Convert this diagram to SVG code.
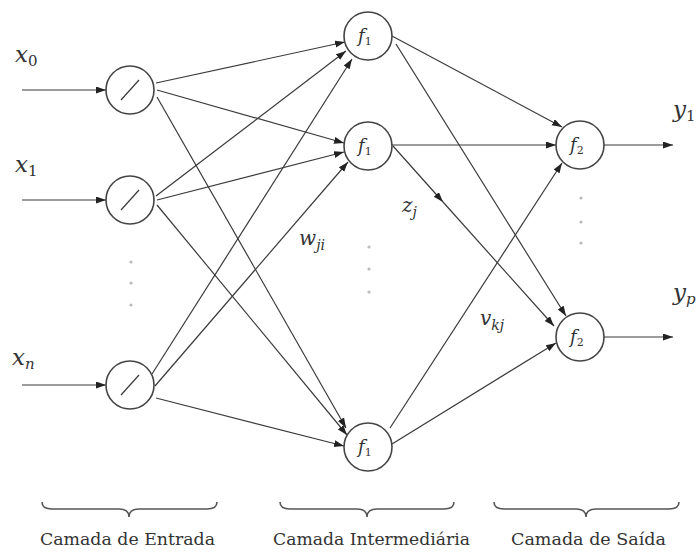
<svg xmlns="http://www.w3.org/2000/svg" width="698" height="553" viewBox="0 0 698 553">
<style>
.node{fill:#fff;stroke:#444;stroke-width:1.6}
.ln{fill:none;stroke:#3a3a3a;stroke-width:1.2}
.ar{marker-end:url(#ah)}
.m{font-family:"DejaVu Serif","Liberation Serif",serif;font-style:italic;fill:#333}
.r{font-style:normal}
.t{font-family:"DejaVu Serif","Liberation Serif",serif;font-size:17px;fill:#333}
.dot{fill:#bbb}
.br{fill:none;stroke:#555;stroke-width:1.6}
</style>
<defs>
<marker id="ah" markerUnits="userSpaceOnUse" markerWidth="11" markerHeight="8" refX="10" refY="3.5" orient="auto">
<path d="M0,0 L10,3.5 L0,7 z" fill="#222"/>
</marker>
</defs>
<g id="connectors">
<line class="ln ar" x1="22" y1="90" x2="106" y2="90"/>
<line class="ln ar" x1="22" y1="200" x2="106" y2="200"/>
<line class="ln ar" x1="22" y1="385" x2="106" y2="385"/>
<line class="ln ar" x1="156" y1="83" x2="345" y2="42"/>
<line class="ln ar" x1="157" y1="90" x2="344" y2="143"/>
<line class="ln ar" x1="157" y1="97" x2="346" y2="428"/>
<line class="ln ar" x1="156" y1="196" x2="346" y2="51"/>
<line class="ln ar" x1="157" y1="200" x2="344" y2="152"/>
<line class="ln ar" x1="157" y1="205" x2="347" y2="435"/>
<line class="ln ar" x1="152" y1="374" x2="352" y2="59"/>
<line class="ln ar" x1="155" y1="386" x2="348" y2="162"/>
<line class="ln ar" x1="156" y1="398" x2="344" y2="446"/>
<line class="ln ar" x1="392" y1="36" x2="562" y2="127"/>
<line class="ln ar" x1="396" y1="44" x2="566" y2="316"/>
<line class="ln ar" x1="392" y1="145" x2="556" y2="145"/>
<line class="ln ar" x1="393" y1="146" x2="443" y2="202"/>
<line class="ln ar" x1="443" y1="202" x2="554" y2="326"/>
<line class="ln ar" x1="390" y1="428" x2="562" y2="163"/>
<line class="ln ar" x1="392" y1="444" x2="556" y2="343"/>
<line class="ln ar" x1="604" y1="145" x2="673" y2="145"/>
<line class="ln ar" x1="604" y1="337" x2="673" y2="337"/>
</g>
<g id="in0"><circle class="node" cx="130" cy="90" r="24"/><line class="ln" x1="121" y1="100" x2="139" y2="80" stroke-width="1.6"/></g>
<g id="in1"><circle class="node" cx="130" cy="200" r="24"/><line class="ln" x1="121" y1="210" x2="139" y2="190" stroke-width="1.6"/></g>
<g id="inn"><circle class="node" cx="130" cy="385" r="24"/><line class="ln" x1="121" y1="395" x2="139" y2="375" stroke-width="1.6"/></g>
<g id="h1"><circle class="node" cx="368" cy="36" r="24"/><text class="m" x="358" y="42" font-size="18">f<tspan class="r" font-size="11" dy="3">1</tspan></text></g>
<g id="h2"><circle class="node" cx="368" cy="146" r="24"/><text class="m" x="358" y="152" font-size="18">f<tspan class="r" font-size="11" dy="3">1</tspan></text></g>
<g id="h3"><circle class="node" cx="368" cy="447" r="24"/><text class="m" x="358" y="453" font-size="18">f<tspan class="r" font-size="11" dy="3">1</tspan></text></g>
<g id="o1"><circle class="node" cx="580" cy="145" r="24"/><text class="m" x="570" y="151" font-size="18">f<tspan class="r" font-size="11" dy="3">2</tspan></text></g>
<g id="o2"><circle class="node" cx="580" cy="337" r="24"/><text class="m" x="570" y="343" font-size="18">f<tspan class="r" font-size="11" dy="3">2</tspan></text></g>
<g id="dots">
<circle class="dot" cx="131" cy="262" r="1.6"/><circle class="dot" cx="131" cy="283" r="1.6"/><circle class="dot" cx="131" cy="305" r="1.6"/>
<circle class="dot" cx="369" cy="247" r="1.6"/><circle class="dot" cx="369" cy="269" r="1.6"/><circle class="dot" cx="369" cy="292" r="1.6"/>
<circle class="dot" cx="581" cy="198" r="1.6"/><circle class="dot" cx="581" cy="222" r="1.6"/><circle class="dot" cx="581" cy="243" r="1.6"/>
</g>
<g id="labels">
<text class="m" x="15" y="62" font-size="23">x<tspan class="r" font-size="15" dy="4">0</tspan></text>
<text class="m" x="15" y="172" font-size="23">x<tspan class="r" font-size="15" dy="4">1</tspan></text>
<text class="m" x="12" y="365" font-size="23">x<tspan font-size="15" dy="4">n</tspan></text>
<text class="m" x="673" y="117" font-size="23">y<tspan class="r" font-size="15" dy="4">1</tspan></text>
<text class="m" x="673" y="300" font-size="23">y<tspan font-size="15" dy="4">p</tspan></text>
<text class="m" x="299" y="245" font-size="20">w<tspan font-size="14" dy="5">ji</tspan></text>
<text class="m" x="402" y="212" font-size="20">z<tspan font-size="14" dy="5">j</tspan></text>
<text class="m" x="480" y="325" font-size="20">v<tspan font-size="14" dy="5">kj</tspan></text>
</g>
<g id="braces">
<path class="br" d="M42,502 Q42,509 52,509 L119,509 Q129,509 129,517 Q129,509 139,509 L207,509 Q217,509 217,502"/>
<path class="br" d="M280,502 Q280,509 290,509 L357,509 Q367,509 367,517 Q367,509 377,509 L444,509 Q454,509 454,502"/>
<path class="br" d="M494,502 Q494,509 504,509 L576,509 Q586,509 586,517 Q586,509 596,509 L669,509 Q679,509 679,502"/>
<text class="t" x="40" y="545" textLength="175" lengthAdjust="spacingAndGlyphs">Camada de Entrada</text>
<text class="t" x="273" y="545" textLength="197" lengthAdjust="spacingAndGlyphs">Camada Intermediária</text>
<text class="t" x="511" y="545" textLength="155" lengthAdjust="spacingAndGlyphs">Camada de Saída</text>
</g>
</svg>
